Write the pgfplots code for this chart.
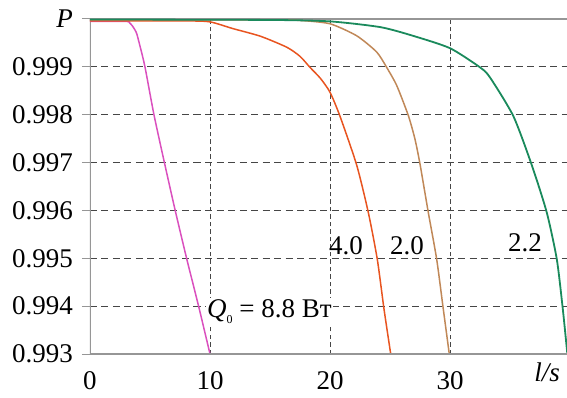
\documentclass[border=0pt]{standalone}
\usepackage{fontspec}
\setmainfont{Liberation Serif}
\usepackage{pgfplots}
\pgfplotsset{compat=1.18}

\definecolor{cgreen}{RGB}{26,138,92}
\definecolor{corange}{RGB}{232,84,32}
\definecolor{cbrown}{RGB}{192,136,88}
\definecolor{cpink}{RGB}{218,80,190}
\definecolor{cgrid}{RGB}{70,70,70}
\definecolor{caxis}{RGB}{150,150,150}

\begin{document}
\fontsize{27bp}{30bp}\selectfont
\begin{tikzpicture}[font=\rmfamily\fontsize{27bp}{30bp}\selectfont]
\begin{axis}[
  name=ax,
  scale only axis,
  width=477bp, height=335bp,
  xmin=0, xmax=39.75,
  ymin=0.993, ymax=1.0,
  /pgf/number format/assume math mode=true,
  xtick={0,10,20,30},
  xticklabels={0,10,20,30},
  extra x ticks={38.1},
  extra x tick labels={\textit{l/s}},
  extra x tick style={grid=none, major tick length=0pt},
  ytick={0.993,0.994,0.995,0.996,0.997,0.998,0.999,1.0},
  yticklabels={0.993,0.994,0.995,0.996,0.997,0.998,0.999,\textit{P}},
  tick label style={font=\rmfamily\fontsize{27bp}{30bp}\selectfont},
  grid=major,
  x grid style={cgrid, line width=0.8bp, dash pattern=on 4.5bp off 3bp},
  y grid style={cgrid, line width=0.8bp, dash pattern=on 7bp off 4.5bp},
  axis line style={draw=none},
  xtick style={draw=none},
  ytick style={caxis, line width=1bp},
  tick align=outside,
  major tick length=8bp,
  clip=true,
]
% frame: left and top lines
\draw[caxis, line width=1.5bp] (rel axis cs:0,1) -- (rel axis cs:1,1);
\draw[caxis, line width=1.5bp] (rel axis cs:0,0) -- (rel axis cs:0,1);

% Q0 = 8.8
\addplot[cpink, line width=1.5bp, smooth, tension=0.4] coordinates {
  (0,0.99995) (3.0,0.99995) (3.3,0.99992) (3.55,0.99985) (3.75,0.99977)
  (3.9,0.99969) (4.17,0.99943) (4.58,0.999) (5.33,0.998) (6.2,0.997)
  (7.1,0.996) (8.05,0.995) (9.05,0.994) (10.0,0.993)
};
% Q0 = 4.0
\addplot[corange, line width=1.5bp, smooth, tension=0.4] coordinates {
  (0,0.99996) (8,0.99996) (10,0.99994) (11.9,0.9998) (14.2,0.99964)
  (16.4,0.99941) (17.5,0.99922) (18.33,0.99899) (19.2,0.99876) (20.0,0.99847)
  (20.83,0.99797) (22.22,0.99695) (23.19,0.99596)
  (23.94,0.99498) (24.5,0.99394) (25.06,0.99300)
};
% Q0 = 2.0
\addplot[cbrown, line width=1.5bp, smooth, tension=0.4] coordinates {
  (0,0.99998) (15,0.99998) (17.5,0.99997) (20,0.9999) (22.22,0.99965)
  (23.89,0.99931) (24.72,0.99899) (25.56,0.99861) (26.53,0.99798)
  (27.08,0.99749) (27.5,0.99697) (28.19,0.99596) (28.89,0.99498)
  (29.44,0.99394) (29.94,0.99300)
};
% Q0 = 2.2
\addplot[cgreen, line width=1.8bp, smooth, tension=0.4] coordinates {
  (0,0.99999) (15,0.99998) (20,0.99995) (24.2,0.99983) (26.9,0.99965)
  (30,0.99939) (32.5,0.99899) (33.33,0.99878) (35.28,0.99797)
  (36.81,0.99695) (38.06,0.99596) (38.9,0.99498)
  (39.4,0.99394) (39.8,0.99295)
};

\draw[caxis, line width=2.5bp] (rel axis cs:0,0) -- (rel axis cs:1,0);

\node[anchor=base west, inner sep=0pt] at (axis cs:19.92,0.995088) {4.0};
\node[anchor=base west, inner sep=0pt] at (axis cs:25.0,0.995088) {2.0};
\node[anchor=base west, inner sep=0pt] at (axis cs:34.83,0.99515) {2.2};
\node[anchor=base west, inner sep=1pt, fill=white] at (axis cs:9.67,0.99377)
  {\textit{Q}\raisebox{-0.22em}{\fontsize{12bp}{12bp}\selectfont 0} = 8.8 Вт};
\end{axis}
\pgfresetboundingbox
\path ([xshift=-90bp,yshift=-44bp]ax.south west) rectangle ([yshift=19bp]ax.north east);
\end{tikzpicture}
\end{document}
